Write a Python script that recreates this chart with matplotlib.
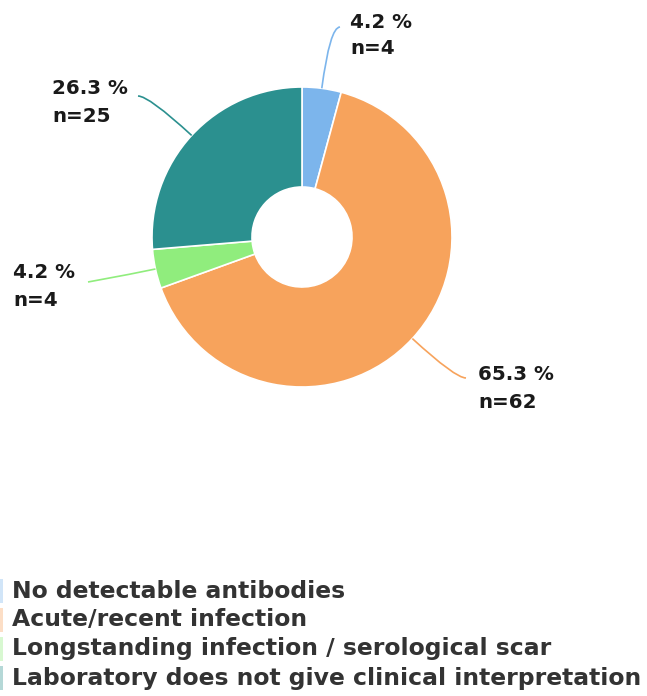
import matplotlib
matplotlib.use("Agg")
import matplotlib.pyplot as plt
import numpy as np
from matplotlib.path import Path
from matplotlib.patches import PathPatch, Rectangle

categories = ["No detectable antibodies", "Acute/recent infection",
              "Longstanding infection / serological scar",
              "Laboratory does not give clinical interpretation"]
counts = [4, 62, 4, 25]
percents = [4.2, 65.3, 4.2, 26.3]
colors = ["#7cb5ec", "#f7a35c", "#90ed7d", "#2b908f"]

W, H = 647, 696
fig = plt.figure(figsize=(W / 100, H / 100), dpi=100)
ax = fig.add_axes([0, 0, 1, 1])

cx, cy, R, r_in = 302, H - 237, 150, 50
wedges, _ = ax.pie(counts, colors=colors, startangle=90, counterclock=False,
                   center=(cx, cy), radius=R,
                   wedgeprops=dict(width=R - r_in, edgecolor="white", linewidth=1.2),
                   frame=True)
ax.set_xlim(0, W)
ax.set_ylim(0, H)
ax.set_aspect("equal", adjustable="box")
ax.axis("off")

# label anchor positions (pixel coords from top) and connector ends
label_pos = [(350, 22), (478, 375), (13, 273), (52, 89)]
conn_end = [(340, 27), (466, 378), (88, 282), (138, 96)]

for i, w in enumerate(wedges):
    ang = np.deg2rad((w.theta1 + w.theta2) / 2)
    p0 = (cx + R * np.cos(ang), cy + R * np.sin(ang))
    ex, ey = conn_end[i][0], H - conn_end[i][1]
    if abs(np.sin(ang)) > 0.3:
        t = (ey - cy) / np.sin(ang)
    else:
        t = R + 20
    t = max(t, R + 5)
    c = (cx + t * np.cos(ang), cy + t * np.sin(ang))
    path = Path([p0, c, (ex, ey)], [Path.MOVETO, Path.CURVE3, Path.CURVE3])
    ax.add_patch(PathPatch(path, fill=False, edgecolor=colors[i], lw=1.2))
    lx, ly = label_pos[i]
    ax.text(lx, H - ly, f"{percents[i]} %", fontsize=14.3, fontweight="bold",
            color="#1a1a1a", ha="left", va="center")
    ax.text(lx, H - ly - 27, f"n={counts[i]}", fontsize=14.3, fontweight="bold",
            color="#1a1a1a", ha="left", va="center")

# legend
leg_y = [591, 620, 649, 678]
for i, cat in enumerate(categories):
    ax.add_patch(Rectangle((-10, H - leg_y[i] - 12), 12.5, 24,
                           facecolor=colors[i], alpha=0.35, edgecolor="none"))
    ax.text(12, H - leg_y[i], cat, fontsize=16.9, fontweight="bold",
            color="#333333", ha="left", va="center")

fig.savefig("out.png", dpi=100)
